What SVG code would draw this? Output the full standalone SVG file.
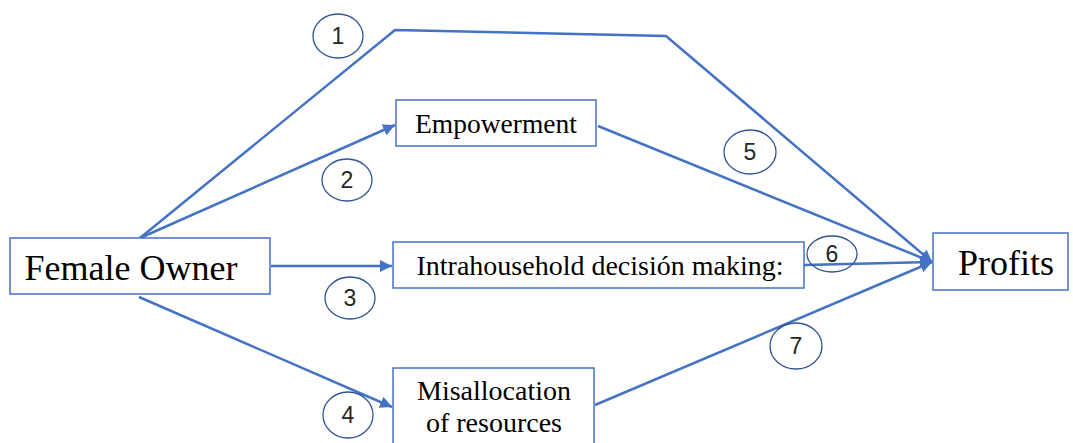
<svg xmlns="http://www.w3.org/2000/svg" width="1073" height="443" viewBox="0 0 1073 443">
<style>
.box{fill:#fff;stroke:#4472C4;stroke-width:1.5}
.lbl{font-family:"Liberation Serif","Times New Roman",serif;fill:#000;text-anchor:middle}
.con{fill:none;stroke:#4472C4;stroke-width:2.5}
.num ellipse{fill:none;stroke:#2F5597;stroke-width:1.3}
.num text{font-family:"Liberation Sans",Arial,sans-serif;font-size:23px;fill:#262626;text-anchor:middle}
</style>
<defs>
<marker id="ah" markerUnits="userSpaceOnUse" markerWidth="14" markerHeight="12" refX="12" refY="6" orient="auto">
<path d="M0,0 L12,6 L0,12 z" fill="#4472C4"/>
</marker>
</defs>
<rect width="1073" height="443" fill="#fff"/>
<g id="connectors">
<polyline class="con" points="140,238 395,30 666,36 932,262" marker-end="url(#ah)"/>
<line class="con" x1="140" y1="238" x2="395" y2="125" marker-end="url(#ah)"/>
<line class="con" x1="598" y1="126" x2="932" y2="262" marker-end="url(#ah)"/>
<line class="con" x1="271" y1="266" x2="392" y2="266" marker-end="url(#ah)"/>
<line class="con" x1="804" y1="265" x2="932" y2="262" marker-end="url(#ah)"/>
<line class="con" x1="139" y1="297" x2="392" y2="407" marker-end="url(#ah)"/>
<line class="con" x1="595" y1="405" x2="932" y2="262" marker-end="url(#ah)"/>
</g>
<g id="female-owner">
<rect class="box" x="10" y="238" width="260" height="56"/>
<text class="lbl" x="131" y="280" font-size="36">Female Owner</text>
</g>
<g id="empowerment">
<rect class="box" x="396" y="100" width="200" height="46"/>
<text class="lbl" x="496" y="133" font-size="27.5">Empowerment</text>
</g>
<g id="intrahousehold">
<rect class="box" x="393" y="242" width="411" height="46"/>
<text class="lbl" x="600" y="275" font-size="28">Intrahousehold decisión making:</text>
</g>
<g id="misallocation">
<rect class="box" x="393" y="368" width="201" height="90"/>
<text class="lbl" x="494" y="400" font-size="28">Misallocation</text>
<text class="lbl" x="494" y="432" font-size="28">of resources</text>
</g>
<g id="profits">
<rect class="box" x="933" y="233" width="135" height="57"/>
<text class="lbl" x="1006" y="275" font-size="36">Profits</text>
</g>
<g id="n1" class="num"><ellipse cx="338" cy="36" rx="25" ry="22"/><text x="338" y="44">1</text></g>
<g id="n2" class="num"><ellipse cx="347" cy="180" rx="25" ry="21"/><text x="347" y="188">2</text></g>
<g id="n3" class="num"><ellipse cx="350" cy="298" rx="25" ry="21"/><text x="350" y="306">3</text></g>
<g id="n4" class="num"><ellipse cx="348" cy="415" rx="25" ry="23"/><text x="348" y="423">4</text></g>
<g id="n5" class="num"><ellipse cx="750" cy="152" rx="26" ry="22"/><text x="750" y="160">5</text></g>
<g id="n6" class="num"><ellipse cx="832" cy="254" rx="25" ry="18"/><text x="832" y="262">6</text></g>
<g id="n7" class="num"><ellipse cx="796" cy="346" rx="26" ry="23"/><text x="796" y="354">7</text></g>
</svg>
